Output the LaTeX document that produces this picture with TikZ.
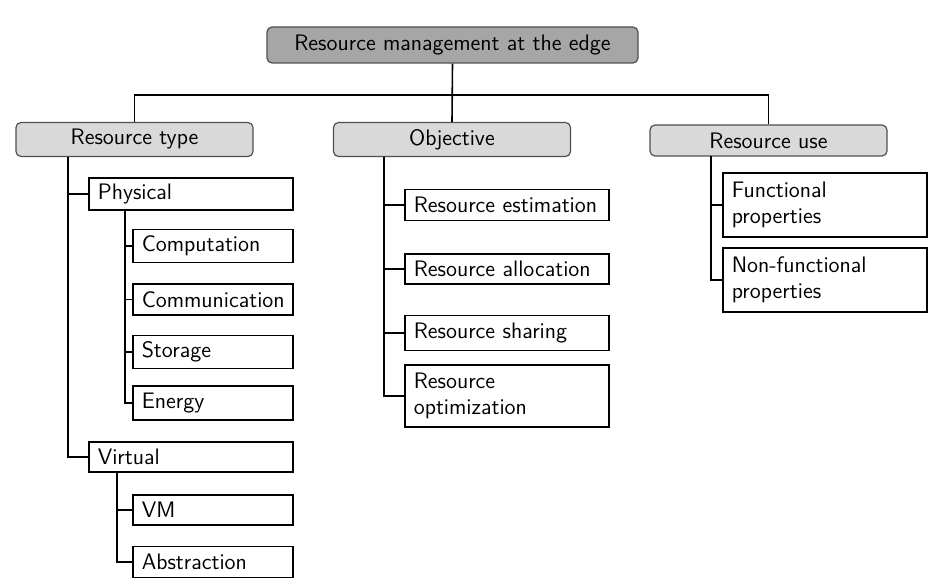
\documentclass[tikz,border=0pt]{standalone}
\usepackage{tikz}
\definecolor{rootfill}{HTML}{A6A6A6}
\definecolor{lvlfill}{HTML}{D9D9D9}
\definecolor{lvldraw}{HTML}{505050}
\hyphenpenalty=10000
\exhyphenpenalty=10000
\begin{document}
\begin{tikzpicture}[x=0.5pt,y=-0.5pt,
  font=\sffamily\fontsize{11.2}{13.2}\selectfont,
  rootbox/.style={draw=lvldraw,fill=rootfill,rounded corners=2.5pt,line width=0.6pt,minimum width=185.5pt,minimum height=18pt,inner sep=0pt},
  lvlbox/.style={draw=lvldraw,fill=lvlfill,rounded corners=2.5pt,line width=0.6pt,minimum width=118.5pt,minimum height=17pt,inner sep=0pt},
  leafbox/.style={draw=black,fill=white,line width=0.8pt,text width=#1,align=left,inner xsep=4.4pt,inner ysep=1pt,minimum height=16pt},
  leafbox/.default=93.2pt,
  conn/.style={draw=black,line width=0.8pt}
]
\useasboundingbox (0,0) rectangle (938,588);
% root and level 1
\node[rootbox] (root) at (452.5,45) {Resource management at the edge};
\node[lvlbox] (rtype) at (134.5,139.5) {Resource type};
\node[lvlbox] (obj) at (452,139.5) {Objective};
\node[lvlbox,minimum height=15.5pt] (ruse) at (768.5,140.5) {Resource use};
\coordinate (bus) at (452,95);
\draw[conn] (root.south) -- (obj.north);
\draw[conn] (rtype.north) -- (rtype.north |- bus) -- (ruse.north |- bus) -- (ruse.north);
% resource type branch
\node[leafbox] (phys) at (191,194) {Physical};
\node[leafbox=71.2pt,minimum height=16.5pt] (comp) at (213,246) {Computation};
\node[leafbox=71.2pt,minimum height=15.5pt] (comm) at (213,299.5) {Communication};
\node[leafbox=71.2pt,minimum height=16.5pt] (stor) at (213,352) {Storage};
\node[leafbox=71.2pt,minimum height=17pt] (ener) at (213,403) {Energy};
\node[leafbox,minimum height=15pt] (virt) at (191,457) {Virtual};
\node[leafbox=71.2pt,minimum height=15pt] (vm) at (213,510) {VM};
\node[leafbox=71.2pt,minimum height=15.5pt] (abst) at (213,562) {Abstraction};
\coordinate (t1) at (68,157);
\coordinate (t2) at (125,211);
\coordinate (t3) at (117,472);
\draw[conn] (t1) |- (phys.west);
\draw[conn] (t1) |- (virt.west);
\draw[conn] (t2) |- (comp.west);
\draw[conn] (t2) |- (comm.west);
\draw[conn] (t2) |- (stor.west);
\draw[conn] (t2) |- (ener.west);
\draw[conn] (t3) |- (vm.west);
\draw[conn] (t3) |- (abst.west);
% objective branch
\node[leafbox,minimum height=15.5pt] (est) at (507,205) {Resource estimation};
\node[leafbox,minimum height=15pt] (alloc) at (507,269) {Resource allocation};
\node[leafbox,minimum height=17.5pt] (share) at (507,333) {Resource sharing};
\node[leafbox,minimum height=31pt] (opt) at (507,396) {Resource\\optimization};
\coordinate (t4) at (384,157);
\draw[conn] (t4) |- (est.west);
\draw[conn] (t4) |- (alloc.west);
\draw[conn] (t4) |- (share.west);
\draw[conn] (t4) |- (opt.west);
% resource use branch
\node[leafbox,minimum height=32pt] (func) at (825,205) {Functional\\properties};
\node[leafbox,minimum height=32pt] (nfunc) at (825,280) {Non-functional\\properties};
\coordinate (t5) at (711,156);
\draw[conn] (t5) |- (func.west);
\draw[conn] (t5) |- (nfunc.west);
\end{tikzpicture}
\end{document}
